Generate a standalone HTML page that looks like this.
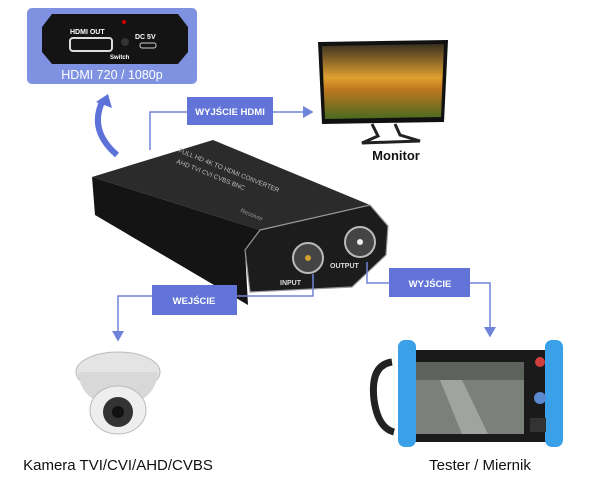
<!DOCTYPE html>
<html><head><meta charset="utf-8"><style>
body{margin:0;background:#fff;width:610px;height:484px;overflow:hidden}
svg{display:block}
text{font-family:"Liberation Sans",sans-serif}
</style></head><body>
<svg width="610" height="484" viewBox="0 0 610 484">
<defs>
<marker id="ar" markerWidth="8" markerHeight="8" refX="6" refY="4" orient="auto"><path d="M0,0 L7,4 L0,8 Z" fill="#6f83d8"/></marker>
<linearGradient id="sky" x1="0" y1="0" x2="0" y2="1"><stop offset="0" stop-color="#3a3020"/><stop offset="0.45" stop-color="#e0a030"/><stop offset="0.6" stop-color="#c07820"/><stop offset="1" stop-color="#4a6a20"/></linearGradient>
</defs>
<rect x="27" y="8" width="170" height="76" rx="5" fill="#7f92e2"/>
<polygon points="52,14 178,14 188,27 188,52 178,64 52,64 42,52 42,27" fill="#141414"/>
<text x="70" y="34" font-size="7" font-weight="bold" fill="#fff">HDMI OUT</text>
<rect x="70" y="38" width="42" height="13" rx="3" fill="none" stroke="#ddd" stroke-width="2"/>
<circle cx="125" cy="42" r="4" fill="#333"/>
<circle cx="124" cy="22" r="2" fill="#c00"/>
<text x="135" y="39" font-size="7" font-weight="bold" fill="#fff">DC 5V</text>
<rect x="140" y="43" width="16" height="5" rx="2" fill="none" stroke="#ccc"/>
<text x="110" y="59" font-size="6" font-weight="bold" fill="#fff">Switch</text>
<text x="112" y="79" font-size="12.5" fill="#fff" text-anchor="middle">HDMI 720 / 1080p</text>
<path d="M117,155 Q88,130 103,100" fill="none" stroke="#5d72d8" stroke-width="6"/>
<polygon points="96,102 108,94 112,108" fill="#5d72d8"/>
<polyline points="150,150 150,112 312,112" fill="none" stroke="#6f83d8" stroke-width="1.5" marker-end="url(#ar)"/>
<rect x="187" y="97" width="86" height="28" fill="#6274d8"/>
<text x="230" y="115" font-size="9.5" font-weight="bold" fill="#fff" text-anchor="middle">WYJŚCIE HDMI</text>
<polygon points="318,42 448,40 444,122 322,124" fill="#111"/>
<polygon points="322,46 444,44 441,117 325,119" fill="url(#sky)"/>
<path d="M372,124 L378,136 L362,143 L420,141 L400,135 L395,124" fill="none" stroke="#222" stroke-width="3"/>
<text x="396" y="160" font-size="13" font-weight="bold" fill="#111" text-anchor="middle">Monitor</text>
<!-- converter device -->
<polygon points="92,177 213,140 370,205 260,230" fill="#2b2b2b"/>
<polygon points="92,177 260,230 245,250 248,305 95,215" fill="#141414"/>
<polygon points="260,230 370,205 388,226 386,255 352,287 250,292 245,250" fill="#1c1c1c" stroke="#999" stroke-width="1.2"/>
<text x="178" y="152" font-size="6.5" fill="#bbb" transform="rotate(22 178 152)">FULL HD 4K TO HDMI CONVERTER</text>
<text x="176" y="163" font-size="6.5" fill="#bbb" transform="rotate(22 176 163)">AHD TVI CVI CVBS BNC</text>
<text x="240" y="212" font-size="6" fill="#999" transform="rotate(22 240 212)">Receiver</text>
<circle cx="308" cy="258" r="15" fill="#444" stroke="#bbb" stroke-width="2"/>
<circle cx="308" cy="258" r="3" fill="#d4a030"/>
<circle cx="360" cy="242" r="15" fill="#444" stroke="#bbb" stroke-width="2"/>
<circle cx="360" cy="242" r="3" fill="#eee"/>
<text x="280" y="285" font-size="7" font-weight="bold" fill="#ddd">INPUT</text>
<text x="330" y="268" font-size="7" font-weight="bold" fill="#ddd">OUTPUT</text>
<polyline points="313,274 313,296 118,296 118,340" fill="none" stroke="#6f83d8" stroke-width="1.5" marker-end="url(#ar)"/>
<rect x="152" y="285" width="85" height="30" fill="#6274d8"/>
<text x="194" y="304" font-size="9.5" font-weight="bold" fill="#fff" text-anchor="middle">WEJŚCIE</text>
<polyline points="367,262 367,283 490,283 490,336" fill="none" stroke="#6f83d8" stroke-width="1.5" marker-end="url(#ar)"/>
<rect x="389" y="268" width="81" height="29" fill="#6274d8"/>
<text x="430" y="287" font-size="9.5" font-weight="bold" fill="#fff" text-anchor="middle">WYJŚCIE</text>
<!-- camera -->
<ellipse cx="118" cy="372" rx="42" ry="20" fill="#e4e4e4" stroke="#bbb"/>
<path d="M78,372 Q80,395 100,402 L136,402 Q156,395 158,372 Z" fill="#d8d8d8"/>
<ellipse cx="118" cy="410" rx="28" ry="24" fill="#eee" stroke="#bbb"/>
<circle cx="118" cy="412" r="15" fill="#333"/>
<circle cx="118" cy="412" r="6" fill="#111"/>
<text x="118" y="470" font-size="15" fill="#111" text-anchor="middle">Kamera TVI/CVI/AHD/CVBS</text>
<!-- tester -->
<path d="M392,362 Q370,365 374,400 Q378,428 394,432" fill="none" stroke="#222" stroke-width="7"/>
<rect x="410" y="350" width="142" height="92" rx="3" fill="#1a1a1a"/>
<rect x="398" y="340" width="18" height="107" rx="7" fill="#3aa0e8"/>
<rect x="545" y="340" width="18" height="107" rx="7" fill="#3aa0e8"/>
<rect x="416" y="362" width="108" height="72" fill="#7c807a"/>
<rect x="416" y="362" width="108" height="18" fill="#5e625c"/>
<polygon points="440,380 462,380 488,434 462,434" fill="#bbb" opacity="0.6"/>
<circle cx="540" cy="362" r="5" fill="#d04040"/>
<circle cx="540" cy="398" r="6" fill="#5a8ad0"/>
<rect x="530" y="418" width="16" height="14" fill="#333"/>
<text x="480" y="470" font-size="15" fill="#111" text-anchor="middle">Tester / Miernik</text>
</svg>
</body></html>
